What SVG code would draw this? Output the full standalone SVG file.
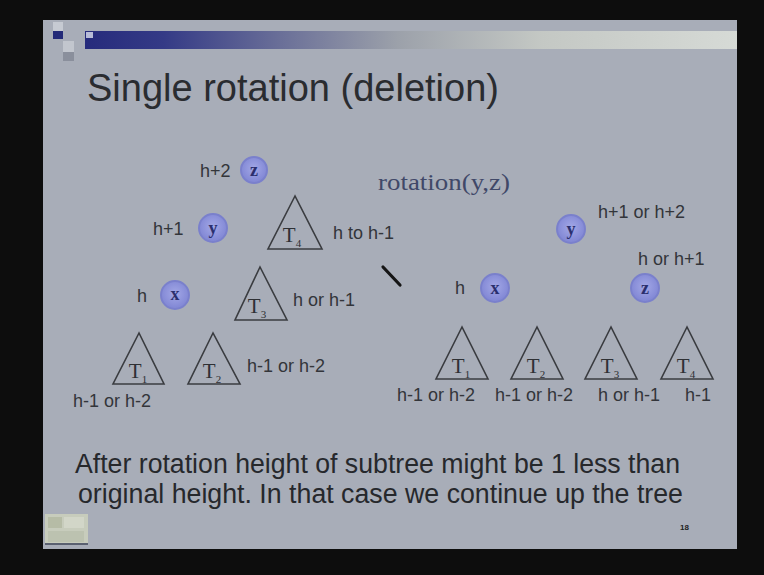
<svg xmlns="http://www.w3.org/2000/svg" width="764" height="575" viewBox="0 0 764 575">
<defs>
<linearGradient id="bar" x1="0" y1="0" x2="1" y2="0">
<stop offset="0" stop-color="#262b7c"/>
<stop offset="0.12" stop-color="#343a86"/>
<stop offset="0.3" stop-color="#6a6f98"/>
<stop offset="0.48" stop-color="#9ca1aa"/>
<stop offset="0.7" stop-color="#c4c8c4"/>
<stop offset="1" stop-color="#d6dad6"/>
</linearGradient>
<radialGradient id="nodefill" cx="0.5" cy="0.45" r="0.6">
<stop offset="0" stop-color="#a3a8e6"/>
<stop offset="1" stop-color="#7c82d2"/>
</radialGradient>
</defs>
<style>
.lbl{font-family:"Liberation Sans",Arial,sans-serif;font-size:18px;fill:#33353a}
.tri{fill:none;stroke:#3a3c40;stroke-width:1.6;stroke-linejoin:miter}
.tt{font-family:"Liberation Serif","Times New Roman",serif;font-size:21px;fill:#2e3034;text-anchor:middle}
.sub{font-size:11px}
.nc{fill:url(#nodefill);stroke:#7a80cc;stroke-width:2}
.nl{font-family:"Liberation Serif","Times New Roman",serif;font-size:18px;font-weight:bold;fill:#2b2f6e;text-anchor:middle}
.body{font-family:"Liberation Sans",Arial,sans-serif;font-size:27px;fill:#26282c}
</style>
<rect x="0" y="0" width="764" height="575" fill="#0d0d0d"/>
<rect x="43" y="20" width="694" height="529" fill="#a8adb8"/>
<!-- header decoration -->
<rect x="85" y="31" width="652" height="18" fill="url(#bar)"/>
<rect x="53" y="22" width="10" height="9" fill="#c6cad2"/>
<rect x="53" y="31" width="10" height="8" fill="#232a78"/>
<rect x="63" y="41" width="11" height="11" fill="#c2c6ce"/>
<rect x="63" y="52" width="11" height="9" fill="#8a8f9c"/>
<rect x="86" y="32" width="7" height="6" fill="#b8bcd8"/>
<text x="87" y="101" font-family="'Liberation Sans',Arial,sans-serif" font-size="38" fill="#2a2c30" textLength="412" lengthAdjust="spacingAndGlyphs">Single rotation (deletion)</text>

<g id="connectors">
<line x1="383" y1="267" x2="400" y2="285" stroke="#151515" stroke-width="3.2" stroke-linecap="round"/>
</g>

<!-- left tree -->
<g id="z-left">
<text class="lbl" x="200" y="177">h+2</text>
<circle class="nc" cx="254" cy="170" r="13"/>
<text class="nl" x="254" y="176">z</text>
</g>
<g id="y-left">
<text class="lbl" x="153" y="235">h+1</text>
<circle class="nc" cx="213" cy="228" r="14"/>
<text class="nl" x="213" y="234">y</text>
</g>
<g id="T4-left">
<polygon class="tri" points="295,196 268,249 322,249"/>
<text class="tt" x="292" y="242">T<tspan class="sub" dy="5">4</tspan></text>
<text class="lbl" x="333" y="239">h to h-1</text>
</g>
<g id="x-left">
<text class="lbl" x="137" y="302">h</text>
<circle class="nc" cx="175" cy="295" r="14"/>
<text class="nl" x="175" y="300">x</text>
</g>
<g id="T3-left">
<polygon class="tri" points="260,267 235,320 287,320"/>
<text class="tt" x="257" y="313">T<tspan class="sub" dy="5">3</tspan></text>
<text class="lbl" x="293" y="306">h or h-1</text>
</g>
<g id="T1-left">
<polygon class="tri" points="139,333 113,384 164,384"/>
<text class="tt" x="138" y="378">T<tspan class="sub" dy="5">1</tspan></text>
<text class="lbl" x="73" y="407">h-1 or h-2</text>
</g>
<g id="T2-left">
<polygon class="tri" points="213,333 188,384 240,384"/>
<text class="tt" x="212" y="378">T<tspan class="sub" dy="5">2</tspan></text>
<text class="lbl" x="247" y="372">h-1 or h-2</text>
</g>

<text x="378" y="190" font-family="'Liberation Serif','Times New Roman',serif" font-size="23" fill="#404868" textLength="132" lengthAdjust="spacingAndGlyphs">rotation(y,z)</text>

<!-- right tree -->
<g id="y-right">
<circle class="nc" cx="571" cy="229" r="14"/>
<text class="nl" x="571" y="235">y</text>
<text class="lbl" x="598" y="218">h+1 or h+2</text>
</g>
<g id="x-right">
<text class="lbl" x="455" y="294">h</text>
<circle class="nc" cx="495" cy="288" r="14"/>
<text class="nl" x="495" y="294">x</text>
</g>
<g id="z-right">
<text class="lbl" x="638" y="265">h or h+1</text>
<circle class="nc" cx="645" cy="288" r="14"/>
<text class="nl" x="645" y="294">z</text>
</g>
<g id="T1-right">
<polygon class="tri" points="462,327 436,379 488,379"/>
<text class="tt" x="461" y="373">T<tspan class="sub" dy="5">1</tspan></text>
<text class="lbl" x="397" y="401">h-1 or h-2</text>
</g>
<g id="T2-right">
<polygon class="tri" points="537,327 511,379 563,379"/>
<text class="tt" x="536" y="373">T<tspan class="sub" dy="5">2</tspan></text>
<text class="lbl" x="495" y="401">h-1 or h-2</text>
</g>
<g id="T3-right">
<polygon class="tri" points="611,327 585,379 637,379"/>
<text class="tt" x="610" y="373">T<tspan class="sub" dy="5">3</tspan></text>
<text class="lbl" x="598" y="401">h or h-1</text>
</g>
<g id="T4-right">
<polygon class="tri" points="687,327 661,379 713,379"/>
<text class="tt" x="686" y="373">T<tspan class="sub" dy="5">4</tspan></text>
<text class="lbl" x="685" y="401">h-1</text>
</g>

<text class="body" x="75" y="473" textLength="605" lengthAdjust="spacingAndGlyphs">After rotation height of subtree might be 1 less than</text>
<text class="body" x="78" y="503" textLength="605" lengthAdjust="spacingAndGlyphs">original height. In that case we continue up the tree</text>

<!-- nav icon -->
<rect x="45" y="514" width="43" height="31" fill="#c7ccbc"/>
<rect x="48" y="517" width="14" height="11" fill="#b6bca6"/>
<rect x="64" y="517" width="20" height="11" fill="#d2d6c8"/>
<rect x="48" y="531" width="36" height="11" fill="#bcc2b0"/>
<line x1="45" y1="544" x2="88" y2="544" stroke="#5a6070" stroke-width="2"/>
<text x="680" y="530" font-family="'Liberation Sans',Arial,sans-serif" font-size="8" font-weight="bold" fill="#222">18</text>
</svg>
